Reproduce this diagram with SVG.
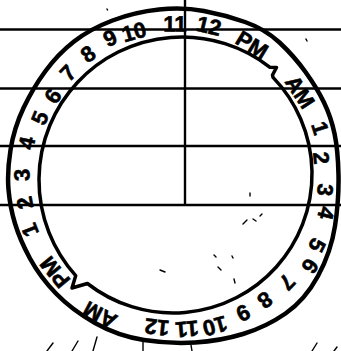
<svg xmlns="http://www.w3.org/2000/svg" width="341" height="351" viewBox="0 0 341 351">
<style>
.ln{stroke:#000;stroke-width:2.4;fill:none}
.ring{stroke:#000;fill:none;stroke-linejoin:round}
.lb{font-family:"Liberation Sans",Arial,sans-serif;font-weight:bold;font-size:22px;fill:#000;stroke:#000;stroke-width:0.6;text-anchor:middle;dominant-baseline:central}
.nz{stroke:#000;stroke-width:1.4;fill:none;stroke-linecap:round}
</style>
<rect width="341" height="351" fill="#fff"/>
<g id="grid">
<line class="ln" x1="0" y1="29.5" x2="341" y2="29.5"/>
<line class="ln" x1="0" y1="88.5" x2="341" y2="88.5"/>
<line class="ln" x1="0" y1="146" x2="341" y2="146"/>
<line class="ln" x1="0" y1="205" x2="341" y2="205"/>
<line class="ln" x1="185" y1="0" x2="185" y2="205"/>
</g>
<g id="dial">
<path class="ring" stroke-width="4.5" d="M159,9.5 Q183,7 204,11 T245,22 T279.5,42.5 T305.5,72 T324,102.5 T334.5,133.5 T338.5,175 T335,226 T318,276 T285.5,313.5 T243,334 T195,342.5 T144,340 T95,323 T56,293.5 T30,258.5 T15,223.5 T8.5,189.5 T10.5,150 T23.5,108 T45.5,71 T74,41.5 T112.5,20.5 T159,9.5 Z"/>
<path class="ring" stroke-width="3.5" d="M75.7,275.7 A143,143 0 0 1 77.4,82.5 A143,143 0 0 1 270,67.3 L276.5,67.5 L272.5,75 L273,77.4 A139,139 0 0 1 276.3,267 A139,139 0 0 1 87.4,283.5 L72,288 Z"/>
</g>
<g id="labels">
<text class="lb" transform="translate(55,272) rotate(230.5)">PM</text>
<text class="lb" transform="translate(30,230) rotate(248.7)">1</text>
<text class="lb" transform="translate(25,203) rotate(259)">2</text>
<text class="lb" transform="translate(22,175) rotate(269.6)">3</text>
<text class="lb" transform="translate(27,143) rotate(281.9)">4</text>
<text class="lb" transform="translate(40,118) rotate(292.7)">5</text>
<text class="lb" transform="translate(53,96) rotate(302.8)">6</text>
<text class="lb" transform="translate(68,73) rotate(313.6)">7</text>
<text class="lb" transform="translate(88,54) rotate(324.4)">8</text>
<text class="lb" transform="translate(110,38) rotate(334.8)">9</text>
<text class="lb" transform="translate(134,32) rotate(344.3)">10</text>
<text class="lb" transform="translate(175,24) rotate(0.4)">11</text>
<text class="lb" transform="translate(209,26) rotate(13.3)">12</text>
<text class="lb" transform="translate(252,45) rotate(31.2)">PM</text>
<text class="lb" transform="translate(300,92) rotate(56.9)">AM</text>
<text class="lb" transform="translate(320,128) rotate(72.5)">1</text>
<text class="lb" transform="translate(321,158) rotate(83.8)">2</text>
<text class="lb" transform="translate(325,190) rotate(96)">3</text>
<text class="lb" transform="translate(326,213) rotate(104.4)">4</text>
<text class="lb" transform="translate(317,245) rotate(116.4)">5</text>
<text class="lb" transform="translate(310,266) rotate(124.1)">6</text>
<text class="lb" transform="translate(287,282) rotate(133.7)">7</text>
<text class="lb" transform="translate(265,300) rotate(144.2)">8</text>
<text class="lb" transform="translate(243,313) rotate(153.6)">9</text>
<text class="lb" transform="translate(215,326) rotate(164.9)">10</text>
<text class="lb" transform="translate(187,329) rotate(175.2)">11</text>
<text class="lb" transform="translate(157,327) rotate(186.3)">12</text>
<text class="lb" transform="translate(100,315) rotate(207.7)">AM</text>
</g>
<g id="marks">
<path class="nz" d="M47,351 L53,343"/>
<path class="nz" d="M72,351 L78,341"/>
<path class="nz" d="M93,351 L97,337"/>
<path class="nz" d="M143,340 L143,351"/>
<path class="nz" d="M191,345 L192,351"/>
<path class="nz" d="M312,351 L317,343"/>
<path class="nz" d="M334,351 L337,347"/>
<path class="nz" d="M250,193 L250,196"/>
<path class="nz" d="M243,224 L247,220 M253,219 L256,221 M260,216 L262,214"/>
<path class="nz" d="M214,255 L216,257 M232,256 L233,258 M218,267 L221,270 M234,279 L235,283"/>
<path class="nz" d="M160,270 L165,272"/>
<path class="nz" d="M107,9 L107.5,10"/>
<path class="nz" d="M306,39 L307,41"/>
</g>
</svg>
